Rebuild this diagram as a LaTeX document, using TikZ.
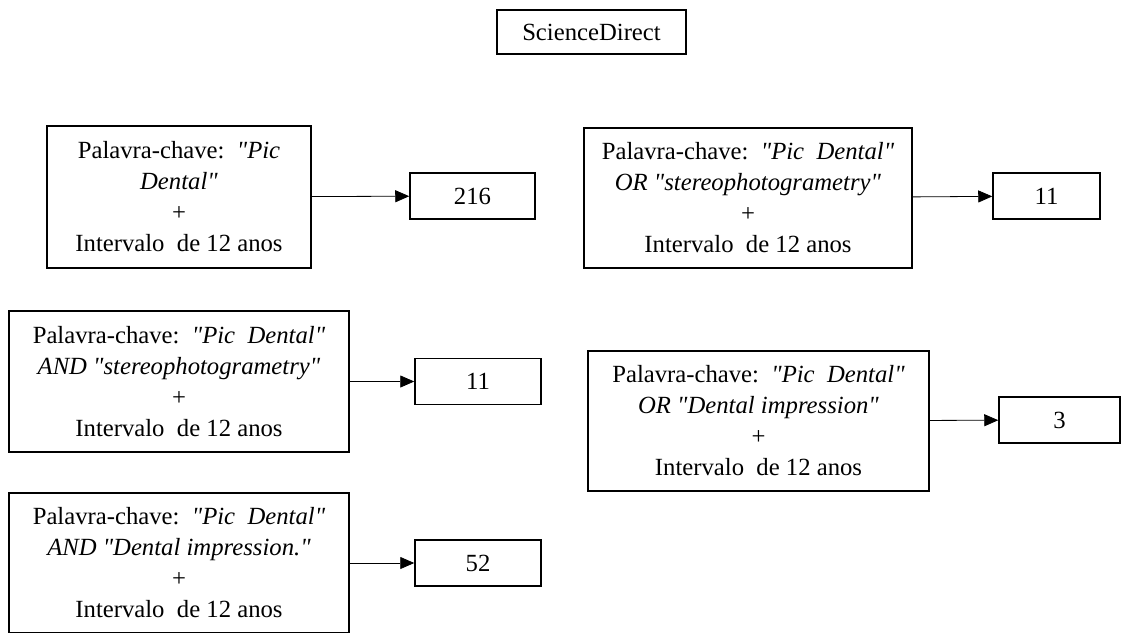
\documentclass[tikz,border=0pt]{standalone}
\usepackage{fontspec}
\setmainfont{Liberation Serif}[Ligatures=TeXOff]
\usetikzlibrary{arrows.meta}

\begin{document}
\begin{tikzpicture}[x=1pt, y=-1pt,
    caixa/.style={draw, line width=1.5pt, align=center, inner sep=0pt,
        font=\fontsize{24.7}{31}\selectfont},
    num/.style={caixa, minimum height=46pt},
    seta/.style={-{Triangle[length=14pt,width=12pt]}, line width=0.8pt}]
    \useasboundingbox[fill=white] (0,0) rectangle (1121,632);
    \clip (0,0) rectangle (1121,632);

    % Base de dados
    \node[caixa, minimum width=189pt, minimum height=44pt] (base) at (591.5,32) {ScienceDirect};

    % Pesquisas
    \node[caixa, minimum width=264pt, minimum height=142pt] (kwA) at (179,197)
        {Palavra-chave:\ \ \textit{"Pic}\\ \textit{Dental"}\\ +\\ Intervalo\ \ de 12 anos};
    \node[caixa, minimum width=328pt, minimum height=140pt] (kwB) at (748,198)
        {Palavra-chave:\ \ \textit{"Pic\ \ Dental"}\\ \textit{OR "stereophotogrametry"}\\ +\\ Intervalo\ \ de 12 anos};
    \node[caixa, minimum width=340pt, minimum height=141pt] (kwC) at (179,381.5)
        {Palavra-chave:\ \ \textit{"Pic\ \ Dental"}\\ \textit{AND "stereophotogrametry"}\\ +\\ Intervalo\ \ de 12 anos};
    \node[caixa, minimum width=341pt, minimum height=140pt] (kwD) at (758.5,421)
        {Palavra-chave:\ \ \textit{"Pic\ \ Dental"}\\ \textit{OR "Dental impression"}\\ +\\ Intervalo\ \ de 12 anos};
    \node[caixa, minimum width=340pt, minimum height=140pt] (kwE) at (179,563)
        {Palavra-chave:\ \ \textit{"Pic\ \ Dental"}\\ \textit{AND "Dental impression."}\\ +\\ Intervalo\ \ de 12 anos};

    % Resultados
    \node[num, minimum width=125pt] (resA) at (472.5,196) {216};
    \node[num, minimum width=107pt] (resB) at (1046.5,196) {11};
    \node[num, minimum width=126pt] (resC) at (478,381.5) {11};
    \node[num, minimum width=121pt] (resD) at (1059.5,420) {3};
    \node[num, minimum width=126pt] (resE) at (478,563) {52};

    % Setas
    \draw[seta] (kwA) -- (resA);
    \draw[seta] (kwB) -- (resB);
    \draw[seta] (kwC) -- (resC);
    \draw[seta] (kwD) -- (resD);
    \draw[seta] (kwE) -- (resE);

\end{tikzpicture}
\end{document}
